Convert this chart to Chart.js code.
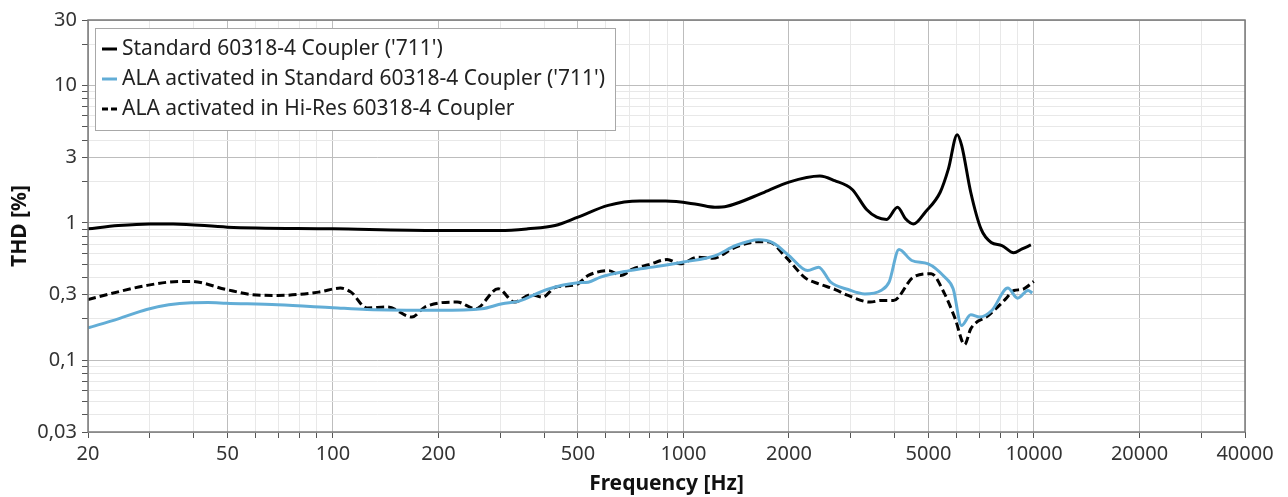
<!DOCTYPE html>
<html>
<head>
<meta charset="utf-8">
<script src="https://cdn.jsdelivr.net/npm/chart.js@4"></script>
<style>
    html, body { margin: 0; padding: 0; background: #fff; }
    #wrap { width: 1288px; height: 497px; }
</style>
</head>
<body>
<div id="wrap"><canvas id="chart" width="1288" height="497"></canvas></div>
<script>
// --- data ---
const standardFreq = [20, 24.4, 30, 35, 50, 100, 200, 300, 360, 430, 500, 610, 750, 890, 1100, 1230, 1330, 1700, 2000, 2450, 2700, 3030, 3330, 3560, 3800, 4080, 4300, 4530, 4900, 5400, 5700, 6040, 6220, 6600, 7060, 7550, 8100, 8750, 9250, 9800];
const standardThd = [0.905, 0.956, 0.983, 0.983, 0.93, 0.905, 0.879, 0.879, 0.905, 0.956, 1.10, 1.34, 1.44, 1.44, 1.36, 1.30, 1.32, 1.67, 1.98, 2.19, 2.03, 1.75, 1.25, 1.10, 1.06, 1.30, 1.07, 0.98, 1.20, 1.67, 2.47, 4.39, 3.65, 1.67, 0.904, 0.72, 0.684, 0.605, 0.647, 0.69];

const alaStdFreq = [20, 24.4, 29.4, 34, 39.5, 44, 49.6, 69.5, 100, 125, 200, 266, 304, 338, 408, 500, 535, 580, 700, 754, 817, 1000, 1233, 1410, 1640, 1800, 2000, 2260, 2430, 2630, 2950, 3290, 3660, 3860, 4120, 4480, 4990, 5560, 5880, 6210, 6600, 7000, 7590, 8420, 8980, 9620, 9890];
const alaStdThd = [0.172, 0.2, 0.234, 0.253, 0.262, 0.263, 0.26, 0.253, 0.241, 0.234, 0.231, 0.237, 0.258, 0.268, 0.327, 0.366, 0.37, 0.403, 0.449, 0.463, 0.476, 0.518, 0.578, 0.684, 0.752, 0.715, 0.578, 0.45, 0.476, 0.37, 0.327, 0.304, 0.322, 0.37, 0.64, 0.532, 0.503, 0.403, 0.331, 0.179, 0.214, 0.206, 0.231, 0.335, 0.283, 0.322, 0.308];

const alaHiResFreq = [20, 29.4, 36.5, 39.5, 49.6, 59, 69.5, 90.9, 105, 112.6, 125, 143, 168, 183, 226, 255, 296, 330, 366, 397, 431, 493, 535, 612, 662, 718, 795, 898, 977, 1100, 1210, 1410, 1640, 1760, 1960, 2230, 2430, 2710, 2950, 3410, 3660, 3970, 4530, 5090, 5560, 5960, 6340, 6600, 7420, 8280, 8770, 9240, 9990];
const alaHiResThd = [0.277, 0.35, 0.374, 0.374, 0.327, 0.3, 0.296, 0.313, 0.335, 0.313, 0.24, 0.244, 0.206, 0.244, 0.265, 0.237, 0.331, 0.265, 0.3, 0.288, 0.34, 0.354, 0.414, 0.449, 0.414, 0.463, 0.495, 0.541, 0.503, 0.563, 0.553, 0.666, 0.73, 0.724, 0.563, 0.396, 0.36, 0.327, 0.296, 0.265, 0.272, 0.272, 0.403, 0.426, 0.304, 0.2, 0.13, 0.169, 0.212, 0.277, 0.322, 0.327, 0.374];

const seriesLabels = [
    "Standard 60318-4 Coupler ('711')",
    "ALA activated in Standard 60318-4 Coupler ('711')",
    "ALA activated in Hi-Res 60318-4 Coupler"
];

const xLabelTicks = [20, 50, 100, 200, 500, 1000, 2000, 5000, 10000, 20000, 40000];
const yLabelTicks = [0.03, 0.1, 0.3, 1, 3, 10, 30];

const FONT = "'Noto Sans', sans-serif";
const TEXT_COLOR = '#333';
const MAJOR_GRID = '#bdbdbd';
const MINOR_GRID = '#e8e8e8';

function toPoints(xs, ys) {
    return xs.map((x, i) => ({x: x, y: ys[i]}));
}

// every 1..9 multiple of each decade between min and max
function logTicks(min, max) {
    const ticks = [];
    for (let e = -3; e <= 5; e++) {
        for (let m = 1; m <= 9; m++) {
            const v = parseFloat((m * Math.pow(10, e)).toPrecision(3));
            if (v >= min - 1e-9 && v <= max + 1e-9) {
                ticks.push({value: v});
            }
        }
    }
    return ticks;
}

function isLabelled(list, v) {
    return list.some(t => Math.abs(t - v) / t < 1e-6);
}

const frameAndLegend = {
    id: 'frameAndLegend',
    afterDraw(chart) {
        const ctx = chart.ctx;
        const area = chart.chartArea;

        ctx.save();
        ctx.strokeStyle = '#7a7a7a';
        ctx.lineWidth = 1.5;
        ctx.strokeRect(area.left, area.top, area.right - area.left, area.bottom - area.top);

        // legend box inside the plot
        const boxX = area.left + 7;
        const boxY = area.top + 8;
        const boxW = 520;
        const boxH = 102;
        ctx.fillStyle = '#fff';
        ctx.fillRect(boxX, boxY, boxW, boxH);
        ctx.strokeStyle = '#a8a8a8';
        ctx.lineWidth = 1;
        ctx.strokeRect(boxX + 0.5, boxY + 0.5, boxW, boxH);

        ctx.font = '21px ' + FONT;
        ctx.textBaseline = 'middle';
        chart.data.datasets.forEach((ds, i) => {
            const y = boxY + 21 + i * 30;
            ctx.strokeStyle = ds.borderColor;
            ctx.lineWidth = 3;
            ctx.setLineDash(ds.borderDash ? [6, 3] : []);
            ctx.beginPath();
            ctx.moveTo(boxX + 7, y);
            ctx.lineTo(boxX + 22, y);
            ctx.stroke();
            ctx.setLineDash([]);
            ctx.fillStyle = '#222';
            ctx.fillText(ds.label, boxX + 27, y);
        });
        ctx.restore();
    }
};

new Chart(document.getElementById('chart'), {
    type: 'line',
    data: {
        datasets: [
            {
                label: seriesLabels[0],
                data: toPoints(standardFreq, standardThd),
                borderColor: '#000',
                borderWidth: 3
            },
            {
                label: seriesLabels[1],
                data: toPoints(alaStdFreq, alaStdThd),
                borderColor: '#62add6',
                borderWidth: 3
            },
            {
                label: seriesLabels[2],
                data: toPoints(alaHiResFreq, alaHiResThd),
                borderColor: '#000',
                borderWidth: 3,
                borderDash: [8, 4]
            }
        ]
    },
    options: {
        responsive: false,
        animation: false,
        devicePixelRatio: 1,
        layout: {padding: {left: 0, right: 43, top: 20, bottom: 0}},
        elements: {
            point: {radius: 0},
            line: {cubicInterpolationMode: 'monotone', fill: false}
        },
        plugins: {
            legend: {display: false},
            tooltip: {enabled: false}
        },
        scales: {
            x: {
                type: 'logarithmic',
                min: 20,
                max: 40000,
                afterBuildTicks: scale => { scale.ticks = logTicks(20, 40000); },
                afterFit: scale => { scale.height = 65; },
                border: {display: false},
                grid: {
                    color: c => isLabelled(xLabelTicks, c.tick.value) ? MAJOR_GRID : MINOR_GRID,
                    tickColor: '#555',
                    tickLength: 6,
                    lineWidth: 1
                },
                ticks: {
                    autoSkip: false,
                    maxRotation: 0,
                    padding: 4,
                    color: TEXT_COLOR,
                    font: {family: FONT, size: 20},
                    callback: v => isLabelled(xLabelTicks, v) ? String(v) : ''
                },
                title: {
                    display: true,
                    text: 'Frequency [Hz]',
                    color: '#111',
                    font: {family: FONT, size: 21, weight: 'bold'},
                    padding: {top: 0, bottom: 0}
                }
            },
            y: {
                type: 'logarithmic',
                min: 0.03,
                max: 30,
                afterBuildTicks: scale => { scale.ticks = logTicks(0.03, 30); },
                afterFit: scale => { scale.width = 88; },
                border: {display: false},
                grid: {
                    color: c => isLabelled(yLabelTicks, c.tick.value) ? MAJOR_GRID : MINOR_GRID,
                    tickColor: '#555',
                    tickLength: 6,
                    lineWidth: 1
                },
                ticks: {
                    autoSkip: false,
                    padding: 5,
                    color: TEXT_COLOR,
                    font: {family: FONT, size: 20},
                    callback: v => isLabelled(yLabelTicks, v) ? String(v).replace('.', ',') : ''
                },
                title: {
                    display: true,
                    text: 'THD [%]',
                    color: '#111',
                    font: {family: FONT, size: 21, weight: 'bold'},
                    padding: {top: 7, bottom: 0}
                }
            }
        }
    },
    plugins: [frameAndLegend]
});
</script>
</body>
</html>
